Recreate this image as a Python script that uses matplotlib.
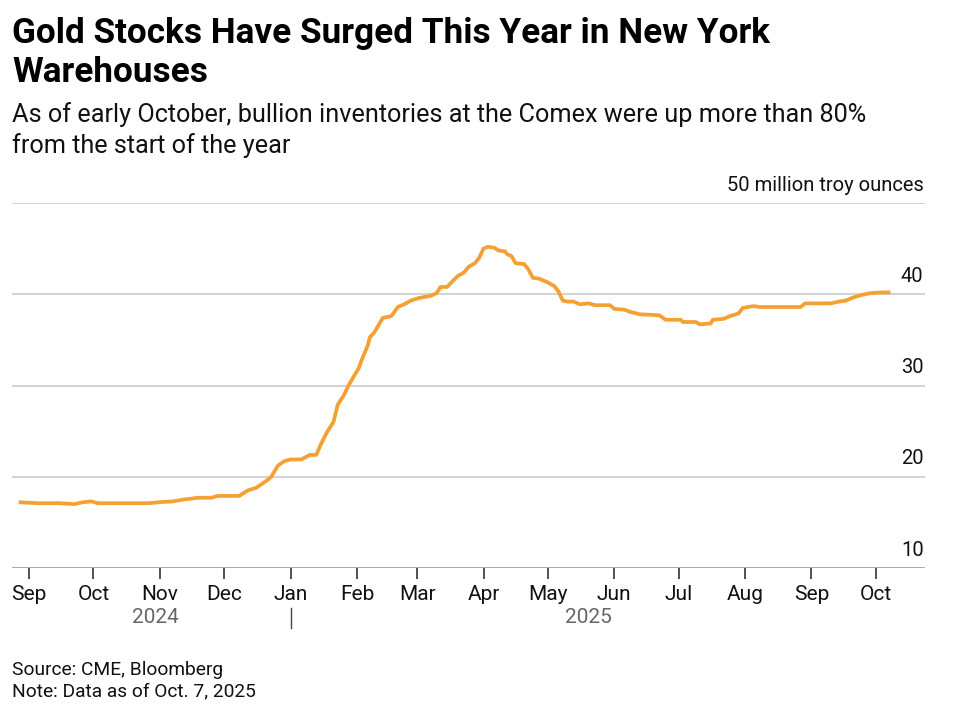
import matplotlib
matplotlib.use("Agg")
import matplotlib.pyplot as plt
import matplotlib.dates as mdates
import pandas as pd

# ---- data (million troy ounces) ----
dates = [
    "2024-08-28", "2024-09-05", "2024-09-15", "2024-09-22", "2024-09-26", "2024-09-30",
    "2024-10-03", "2024-10-17", "2024-10-27", "2024-10-31", "2024-11-07", "2024-11-12",
    "2024-11-19", "2024-11-25", "2024-11-28", "2024-12-02", "2024-12-08", "2024-12-12",
    "2024-12-16", "2024-12-21", "2024-12-23", "2024-12-26", "2024-12-29", "2025-01-01",
    "2025-01-06", "2025-01-10", "2025-01-13", "2025-01-15", "2025-01-18", "2025-01-21",
    "2025-01-23", "2025-01-26", "2025-01-28", "2025-01-31", "2025-02-02", "2025-02-03",
    "2025-02-06", "2025-02-07", "2025-02-09", "2025-02-12", "2025-02-13", "2025-02-17",
    "2025-02-20", "2025-02-23", "2025-02-26", "2025-03-02", "2025-03-07", "2025-03-10",
    "2025-03-12", "2025-03-15", "2025-03-17", "2025-03-20", "2025-03-23", "2025-03-25",
    "2025-03-28", "2025-03-30", "2025-04-01", "2025-04-03", "2025-04-06", "2025-04-08",
    "2025-04-11", "2025-04-12", "2025-04-14", "2025-04-16", "2025-04-20", "2025-04-22",
    "2025-04-24", "2025-04-27", "2025-05-01", "2025-05-04", "2025-05-06", "2025-05-08",
    "2025-05-10", "2025-05-13", "2025-05-16", "2025-05-20", "2025-05-23", "2025-05-30",
    "2025-06-01", "2025-06-06", "2025-06-08", "2025-06-13", "2025-06-22", "2025-06-25",
    "2025-07-02", "2025-07-03", "2025-07-09", "2025-07-11", "2025-07-16", "2025-07-17",
    "2025-07-22", "2025-07-25", "2025-07-29", "2025-07-31", "2025-08-05", "2025-08-08",
    "2025-08-22", "2025-08-27", "2025-08-29", "2025-09-10", "2025-09-14", "2025-09-17",
    "2025-09-20", "2025-09-24", "2025-09-28", "2025-10-03", "2025-10-07",
]
inventory = [
    17.2, 17.1, 17.1, 17.0, 17.2, 17.3,
    17.1, 17.1, 17.1, 17.2, 17.3, 17.5,
    17.7, 17.7, 17.9, 17.9, 17.9, 18.5,
    18.8, 19.6, 20.0, 21.2, 21.7, 21.9,
    21.9, 22.4, 22.4, 23.5, 24.9, 26.0,
    27.9, 29.0, 30.0, 31.2, 32.0, 32.7,
    34.4, 35.3, 35.8, 37.0, 37.4, 37.6,
    38.6, 38.9, 39.3, 39.6, 39.8, 40.1,
    40.8, 40.8, 41.3, 42.0, 42.4, 43.0,
    43.4, 44.0, 45.0, 45.2, 45.1, 44.8,
    44.7, 44.4, 44.2, 43.4, 43.3, 42.7,
    41.8, 41.7, 41.3, 40.9, 40.3, 39.3,
    39.2, 39.2, 38.9, 39.0, 38.8, 38.8,
    38.4, 38.3, 38.1, 37.8, 37.7, 37.2,
    37.2, 36.96, 36.96, 36.7, 36.8, 37.2,
    37.3, 37.6, 37.9, 38.5, 38.7, 38.6,
    38.6, 38.6, 39.0, 39.0, 39.2, 39.3,
    39.6, 39.9, 40.1, 40.2, 40.2,
]
month_ticks = ["2024-09-01", "2024-10-01", "2024-11-01", "2024-12-01", "2025-01-01",
               "2025-02-01", "2025-03-01", "2025-04-01", "2025-05-01", "2025-06-01",
               "2025-07-01", "2025-08-01", "2025-09-01", "2025-10-01"]
month_labels = ["Sep", "Oct", "Nov", "Dec", "Jan", "Feb", "Mar", "Apr", "May", "Jun",
                "Jul", "Aug", "Sep", "Oct"]
y_ticks = [10, 20, 30, 40, 50]
y_labels = ["10", "20", "30", "40", "50 million troy ounces"]
year_labels = ["2024", "2025"]
year_centers = ["2024-10-30", "2025-05-20"]

plt.rcParams["font.family"] = ["Roboto", "DejaVu Sans"]

W, H = 962, 705
fig = plt.figure(figsize=(W / 100, H / 100), dpi=100)
ax = fig.add_axes([12 / W, 1 - 568 / H, (925 - 12) / W, (568 - 203) / H])

x = pd.to_datetime(dates)
ax.plot(x, inventory, color="#F5A033", lw=2.7, solid_joinstyle="round", zorder=3)

ax.set_xlim(pd.Timestamp("2024-08-24"), pd.Timestamp("2025-10-24"))
ax.set_ylim(10, 50)

for s in ax.spines.values():
    s.set_visible(False)
for yt in y_ticks[1:]:
    ax.axhline(yt, color="#cccccc", lw=1.2, zorder=1)
ax.axhline(10, color="#aaaaaa", lw=1.4, zorder=1)

ax.set_yticks([])
for yt, lab in zip(y_ticks, y_labels):
    ax.annotate(lab, xy=(1, yt), xycoords=("axes fraction", "data"),
                xytext=(-1, 6), textcoords="offset points",
                ha="right", va="bottom", fontsize=14.5, color="#111111")

tk = pd.to_datetime(month_ticks)
ax.set_xticks(tk)
ax.set_xticklabels(month_labels, fontsize=15, color="#111111")
ax.tick_params(axis="x", length=8, width=1.2, color="#333333", pad=4)

for lab, c in zip(year_labels, year_centers):
    ax.annotate(lab, xy=(mdates.date2num(pd.Timestamp(c)), 0),
                xycoords=("data", "axes fraction"), xytext=(0, -35.5),
                textcoords="offset points", ha="center", va="center",
                fontsize=15, color="#666666")
jan = mdates.date2num(pd.Timestamp("2025-01-01"))
ax.plot([jan, jan], [-0.11, -0.165], transform=ax.get_xaxis_transform(),
        color="#444444", lw=1.0, clip_on=False)

fig.text(12 / W, 1 - 33 / H, "Gold Stocks Have Surged This Year in New York",
         fontsize=25.3, fontweight="bold", va="center", ha="left", color="#000000")
fig.text(12 / W, 1 - 73 / H, "Warehouses",
         fontsize=25.3, fontweight="bold", va="center", ha="left", color="#000000")
fig.text(12 / W, 1 - 115 / H,
         "As of early October, bullion inventories at the Comex were up more than 80%",
         fontsize=18.2, va="center", ha="left", color="#111111")
fig.text(12 / W, 1 - 146 / H, "from the start of the year",
         fontsize=18.2, va="center", ha="left", color="#111111")
fig.text(12 / W, 1 - 670 / H, "Source: CME, Bloomberg",
         fontsize=13.8, va="center", ha="left", color="#111111")
fig.text(12 / W, 1 - 691 / H, "Note: Data as of Oct. 7, 2025",
         fontsize=13.8, va="center", ha="left", color="#111111")

fig.savefig("out.png", dpi=100)
